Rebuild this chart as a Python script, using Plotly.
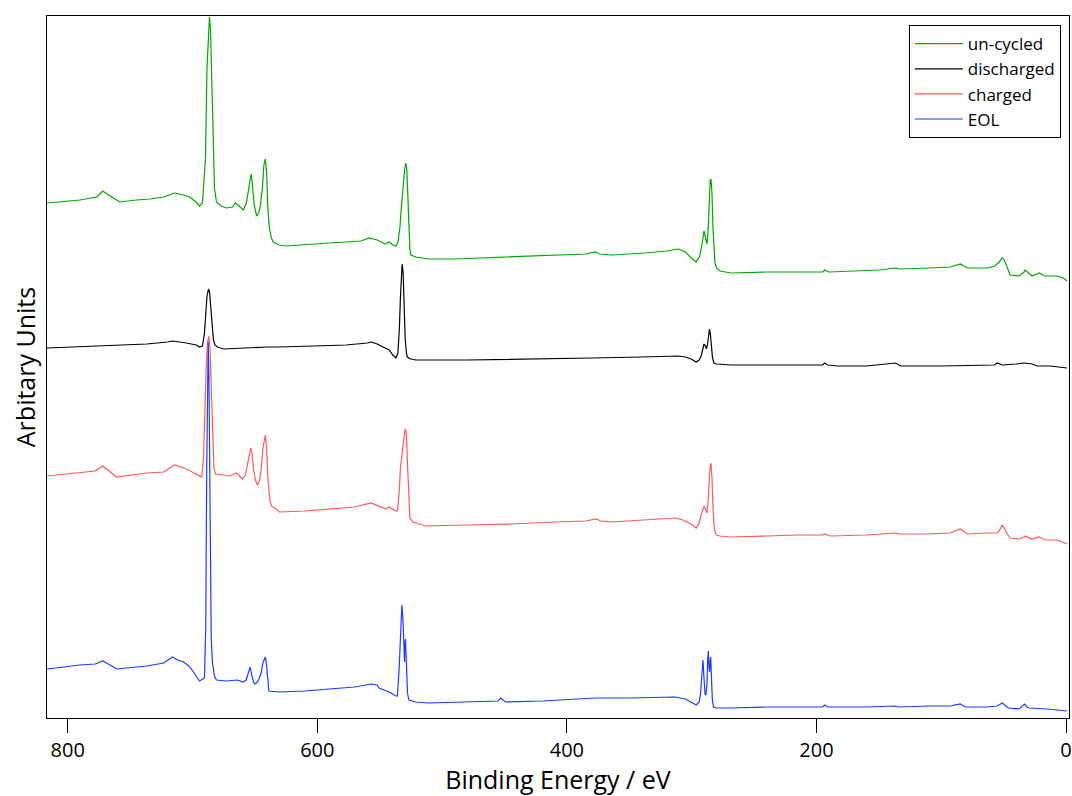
import plotly.graph_objects as go

# ---- data (binding energy in eV, intensity in arbitrary units, offset per spectrum) ----
uncycled_be = [816.6, 790.2, 776.7, 771.9, 766.0, 758.3, 745.0, 734.3, 723.1, 714.3, 707.1, 702.4, 697.0,
               694.4, 692.0, 690.4, 689.6, 688.4, 687.2, 686.4, 685.6, 684.6, 683.6, 682.4, 680.8, 677.0,
               672.8, 668.0, 665.6, 662.0, 659.2, 656.8, 655.2, 653.6, 652.8, 651.6, 650.4, 648.6, 647.0,
               645.6, 644.0, 642.8, 641.6, 640.6, 639.6, 638.4, 636.8, 635.2, 630.4, 624.8, 610.0, 590.5,
               576.9, 565.0, 558.5, 552.0, 545.7, 542.5, 539.4, 537.0, 535.4, 533.8, 533.0, 532.2, 531.4,
               530.6, 529.8, 529.0, 528.2, 527.4, 526.6, 525.8, 525.0, 521.0, 510.6, 490.0, 470.0, 444.3,
               420.0, 400.0, 385.0, 377.1, 374.0, 364.4, 350.0, 337.2, 320.0, 310.8, 305.0, 300.4, 296.4,
               293.5, 291.5, 290.1, 288.5, 287.7, 286.9, 285.9, 285.1, 284.5, 283.7, 282.9, 282.1, 281.3,
               280.1, 277.3, 268.5, 240.0, 214.9, 195.0, 193.4, 190.0, 170.0, 150.0, 136.6, 133.0, 110.0,
               92.7, 84.7, 79.1, 63.1, 57.0, 53.5, 51.1, 49.5, 47.1, 44.7, 37.6, 33.6, 32.8, 29.6, 27.2,
               23.0, 21.6, 16.8, 12.8, 8.0, 4.8, 2.0, -0.8]
uncycled_int = [515, 518, 521, 527, 522, 516, 518, 519, 521, 525, 523, 521, 516,
                512, 515, 540, 560, 650, 690, 701, 690, 640, 568, 530, 516, 512,
                510, 511, 515, 511, 508, 515, 530, 540, 544, 530, 512, 502, 505,
                512, 530, 553, 559, 545, 510, 490, 480, 476, 473, 472, 473, 475,
                476, 477, 480, 478, 474, 476, 473, 472, 476, 490, 505, 520, 530,
                540, 550, 555, 548, 520, 490, 468, 463, 461, 459, 459, 460, 461,
                462, 463, 464, 466, 464, 463, 464, 465, 467, 469, 466, 460, 456,
                462, 475, 487, 478, 474, 485, 520, 538, 539, 525, 490, 465, 455,
                450, 447, 445, 446, 446, 446, 448, 446, 447, 448, 450, 449, 450,
                451, 454, 450, 450, 452, 456, 460, 458, 450, 443, 442, 446, 448, 444, 442,
                444, 445, 442, 442, 442, 441, 440, 437]

discharged_be = [816.6, 776.7, 736.7, 720.0, 716.0, 704.8, 697.0, 694.4, 692.0, 690.4, 689.4, 688.4,
                 687.2, 686.2, 685.2, 684.2, 683.2, 682.0, 680.0, 675.2, 660.0, 640.0, 630.4, 600.0,
                 576.9, 560.0, 556.9, 552.0, 550.5, 545.0, 542.5, 539.4, 537.0, 535.4, 534.2, 533.4,
                 532.6, 532.0, 531.2, 530.4, 529.6, 528.6, 527.8, 525.0, 521.0, 480.0, 417.1, 380.0,
                 340.0, 310.8, 305.0, 300.4, 296.4, 294.0, 292.4, 290.1, 288.9, 288.1, 287.0, 286.3,
                 285.7, 284.9, 284.1, 283.3, 282.1, 280.1, 268.5, 214.9, 195.0, 193.4, 191.0, 183.0,
                 160.0, 136.6, 134.0, 132.6, 100.0, 57.5, 55.1, 51.1, 40.0, 33.6, 27.0, 23.2, 12.8,
                 6.0, -0.8]
discharged_int = [370, 372, 374, 376, 377, 375, 373, 371, 372, 385, 405, 422,
                  429, 425, 408, 390, 378, 373, 371, 369, 370, 371, 371, 372,
                  373, 375, 376, 374, 373, 369, 368, 363, 360, 365, 390, 420,
                  448, 454, 445, 410, 380, 365, 361, 359, 358, 358, 359, 360,
                  361, 362, 361, 359, 356, 358, 362, 374, 372, 369, 376, 386,
                  389, 383, 370, 360, 355, 354, 353, 353, 353, 355, 353, 352,
                  352, 355, 353, 352, 352, 353, 355, 353, 354, 355, 354, 352, 352,
                  351, 350]

charged_be = [816.6, 790.2, 778.0, 771.9, 766.0, 760.7, 736.7, 723.1, 716.0, 714.3, 704.8, 697.0,
              692.6, 691.2, 690.0, 689.0, 688.0, 687.0, 686.0, 685.0, 684.0, 682.8, 681.6, 677.0,
              672.8, 670.4, 664.8, 660.0, 657.6, 656.0, 654.4, 653.4, 652.4, 651.2, 649.6, 648.0,
              646.4, 645.0, 643.6, 642.4, 641.6, 640.6, 639.6, 638.0, 636.8, 632.0, 630.4, 610.0,
              590.5, 570.0, 556.9, 550.5, 545.0, 542.5, 537.0, 535.8, 534.4, 533.4, 532.2, 531.0,
              529.6, 528.6, 527.6, 526.6, 525.8, 523.4, 513.0, 480.0, 444.3, 410.0, 385.0, 376.3,
              373.0, 364.4, 340.0, 313.2, 307.0, 300.4, 296.4, 294.0, 292.4, 290.1, 288.7, 287.7,
              286.9, 286.1, 285.3, 284.5, 283.7, 282.9, 282.1, 281.0, 280.1, 277.3, 268.5, 240.0,
              214.9, 195.0, 193.4, 188.6, 160.0, 136.6, 134.0, 110.0, 92.7, 84.7, 79.1, 63.1, 55.1,
              53.0, 51.1, 49.5, 47.1, 44.7, 37.6, 33.6, 32.8, 27.2, 21.6, 16.8, 8.0, 4.8, -0.8]
charged_int = [242, 245, 247, 252, 246, 241, 245, 246, 252, 253, 249, 244,
               241, 260, 320, 350, 375, 382, 370, 330, 280, 250, 244, 243,
               242, 242, 245, 239, 243, 252, 264, 270, 266, 250, 238, 233,
               237, 248, 270, 280, 283, 270, 240, 218, 212, 208, 206, 207,
               209, 211, 215, 212, 209, 211, 207, 207, 225, 250, 265, 275,
               289, 285, 250, 215, 200, 196, 192, 193, 194, 196, 197, 199,
               197, 196, 198, 200, 198, 194, 190, 195, 203, 212, 208, 205,
               215, 235, 250, 255, 240, 210, 193, 185, 183, 182, 181, 182,
               183, 183, 184, 182, 183, 185, 184, 184, 185, 189, 184, 185, 185,
               188, 193, 190, 184, 180, 179, 181, 182, 179, 181, 178, 178, 177, 174]

eol_be = [816.6, 790.2, 778.0, 771.9, 766.0, 760.7, 736.7, 723.1, 716.0, 712.0, 707.1, 703.0,
          699.2, 694.4, 690.4, 689.4, 688.6, 687.8, 687.4, 686.8, 686.0, 685.0, 684.0, 682.4,
          680.8, 672.8, 664.0, 659.4, 657.0, 655.6, 654.4, 653.8, 652.8, 651.6, 650.2, 648.8,
          647.0, 645.0, 643.6, 642.4, 641.6, 640.8, 640.0, 638.8, 630.4, 610.0, 590.5, 570.0,
          556.9, 552.0, 550.5, 545.0, 542.5, 537.0, 535.8, 534.4, 533.2, 532.2, 531.4, 530.6,
          530.1, 529.7, 529.3, 528.6, 527.7, 526.6, 521.0, 510.6, 480.0, 455.0, 453.1, 449.1,
          420.0, 377.1, 350.0, 313.2, 305.0, 300.4, 296.4, 294.0, 292.8, 291.7, 290.9, 290.1,
          289.3, 288.5, 287.7, 287.1, 286.6, 286.1, 285.6, 285.1, 284.7, 284.1, 283.4, 282.5,
          280.5, 268.5, 240.0, 195.0, 193.4, 191.0, 160.0, 136.6, 134.0, 110.0, 92.7, 84.7,
          80.7, 63.1, 55.1, 51.1, 49.5, 46.3, 37.6, 34.4, 33.2, 31.2, 29.6, 15.2, 8.0, -0.8]
eol_int = [49, 53, 54, 57, 53, 49, 52, 55, 61, 58, 56, 52,
           46, 37, 40, 90, 250, 360, 376, 340, 200, 80, 55, 42,
           38, 37, 38, 36, 38, 44, 50, 51, 45, 38, 34, 35,
           38, 45, 55, 59, 61, 55, 40, 27, 26, 27, 29, 31,
           34, 33, 30, 27, 26, 22, 22, 50, 95, 113, 100, 65,
           56, 75, 79, 55, 25, 18, 16, 15, 16, 17, 20, 16,
           17, 20, 20, 21, 19, 16, 13, 16, 25, 45, 58, 40,
           24, 23, 35, 60, 67, 50, 46, 58, 61, 40, 18, 11,
           10, 10, 11, 11, 13, 11, 11, 12, 11, 12, 12, 14,
           11, 11, 12, 15, 13, 10, 9, 12, 14, 11, 10, 9, 8, 7]

series_names = ["un-cycled", "discharged", "charged", "EOL"]
series_colors = ["#00a800", "#000000", "#ff5a5a", "#1c3cff"]
series_x = [uncycled_be, discharged_be, charged_be, eol_be]
series_y = [uncycled_int, discharged_int, charged_int, eol_int]

x_ticks = [0, 200, 400, 600, 800]

FONT = "Open Sans"

fig = go.Figure()
for name, color, xs, ys in zip(series_names, series_colors, series_x, series_y):
    fig.add_trace(go.Scatter(x=xs, y=ys, mode="lines", name=name,
                             line=dict(color=color, width=1.2)))

fig.update_layout(
    width=1072, height=796,
    margin=dict(l=47, r=0, t=16, b=78),
    paper_bgcolor="white", plot_bgcolor="white",
    font=dict(family=FONT, color="black"),
    showlegend=True,
    legend=dict(x=0.992, y=0.987, xanchor="right", yanchor="top",
                bordercolor="black", borderwidth=1, bgcolor="white",
                font=dict(size=17, family=FONT), itemwidth=48,
                tracegroupgap=0),
)
fig.update_xaxes(
    range=[816.6, -2.4], tickvals=x_ticks, ticks="outside", ticklen=14, tickwidth=1,
    tickcolor="black", showline=True, linecolor="black", linewidth=1, mirror=True,
    showgrid=False, zeroline=False, tickfont=dict(size=20, family=FONT),
    ticklabeloverflow="allow",
    title=dict(text="Binding Energy / eV", font=dict(size=25, family=FONT), standoff=2),
)
fig.update_yaxes(
    range=[0, 702], showticklabels=False, ticks="", showline=True, linecolor="black",
    linewidth=1, mirror=True, showgrid=False, zeroline=False,
    title=dict(text="Arbitary Units", font=dict(size=25, family=FONT), standoff=3),
)

# remove the default page margin so the figure fills the window exactly
fig.write_html("out.html", config={"displayModeBar": False},
               post_script="document.body.style.margin='0';document.body.style.overflow='hidden';")
